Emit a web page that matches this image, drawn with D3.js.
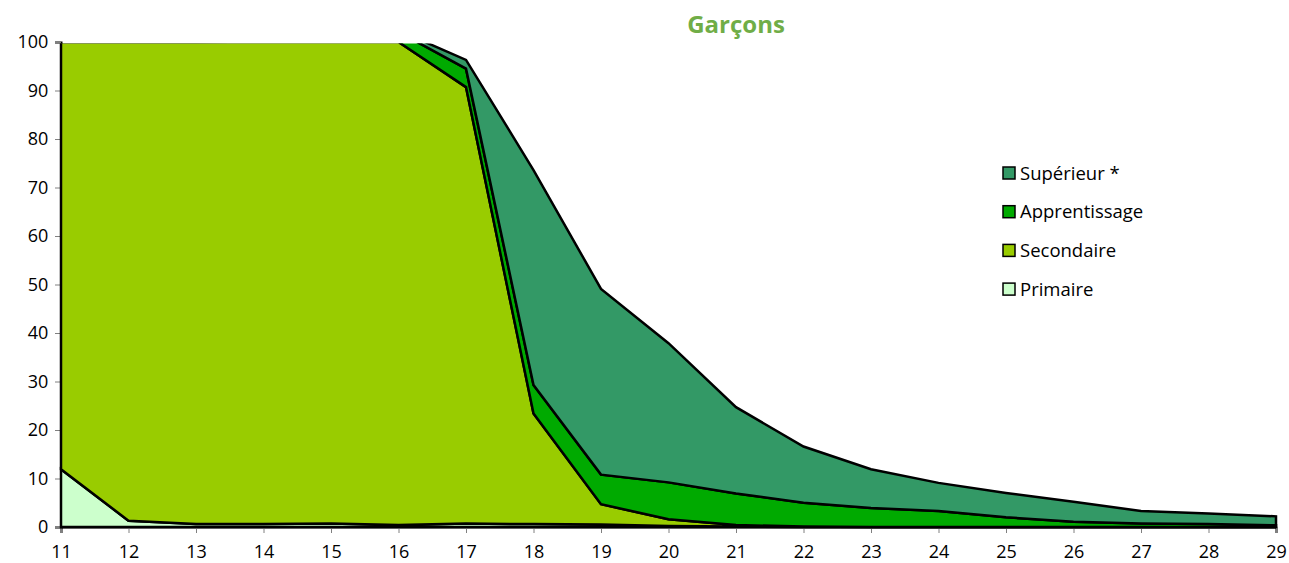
<!DOCTYPE html>
<html>
<head>
<meta charset="utf-8">
<script src="https://cdn.jsdelivr.net/npm/d3@7"></script>
<style>
  body { margin: 0; background: #fff; }
  svg { display: block; font-family: 'Open Sans', sans-serif; }
</style>
</head>
<body>
<div id="chart"></div>
<script>
const ages = [11, 12, 13, 14, 15, 16, 17, 18, 19, 20, 21, 22, 23, 24, 25, 26, 27, 28, 29]
const primaire = [11.9, 1.3, 0.6, 0.6, 0.7, 0.4, 0.7, 0.6, 0.5, 0.2, 0.1, 0, 0, 0, 0, 0, 0, 0, 0]
const secondaire = [88.1, 98.7, 99.4, 99.4, 99.3, 99.6, 90.0, 22.8, 4.2, 1.4, 0.3, 0.1, 0, 0, 0, 0, 0, 0, 0]
const apprentissage = [0, 0, 0, 0.1, 0.3, 2.1, 3.8, 5.9, 6.1, 7.6, 6.5, 4.9, 3.9, 3.3, 2.0, 1.1, 0.7, 0.6, 0.35]
const superieur = [0, 0, 0, 0, 0, 0.3, 1.8, 44.3, 38.3, 28.7, 17.8, 11.6, 8.0, 5.8, 5.0, 4.1, 2.6, 2.2, 1.85]
const seriesNames = ['Primaire', 'Secondaire', 'Apprentissage', 'Supérieur *']
const seriesColors = ['#ccffcc', '#99cc00', '#00aa00', '#339966']
const yTicks = [0, 10, 20, 30, 40, 50, 60, 70, 80, 90, 100]

const margin = { top: 42, left: 61, right: 13, bottom: 36 }
const width = 1289 - margin.left - margin.right
const height = 563 - margin.top - margin.bottom

const svg = d3
  .select('#chart')
  .append('svg')
  .attr('width', width + margin.left + margin.right)
  .attr('height', height + margin.top + margin.bottom)

const g = svg
  .append('g')
  .attr('transform', 'translate(' + margin.left + ',' + margin.top + ')')

const xPositionScale = d3.scaleLinear().domain([11, 29]).range([0, width])
const yPositionScale = d3.scaleLinear().domain([0, 100]).range([height, 0])

const table = ages.map((age, i) => ({
  age: age,
  Primaire: primaire[i],
  Secondaire: secondaire[i],
  Apprentissage: apprentissage[i],
  'Supérieur *': superieur[i]
}))

const stacked = d3.stack().keys(seriesNames)(table)

const area = d3
  .area()
  .x(d => xPositionScale(d.data.age))
  .y0(d => yPositionScale(d[0]))
  .y1(d => yPositionScale(d[1]))

// only cut off what goes above 100 (and the border drawn along it)
g.append('clipPath')
  .attr('id', 'clip')
  .append('rect')
  .attr('x', -10)
  .attr('y', 1.5)
  .attr('width', width + 20)
  .attr('height', height + 10)

const xAxis = d3
  .axisBottom(xPositionScale)
  .tickValues(ages)
  .tickFormat(d3.format('d'))
  .tickSizeOuter(0)
  .tickSize(6)
g.append('g')
  .attr('class', 'axis x-axis')
  .attr('transform', 'translate(0,' + height + ')')
  .call(xAxis)

const yAxis = d3
  .axisLeft(yPositionScale)
  .tickValues(yTicks)
  .tickSizeOuter(0)
  .tickSize(6)
g.append('g')
  .attr('class', 'axis y-axis')
  .call(yAxis)

g.selectAll('.axis text')
  .attr('font-size', 18)
  .attr('fill', '#000')
  .attr('font-family', "'Open Sans', sans-serif")
g.selectAll('.x-axis text').attr('dy', '1.2em')
g.selectAll('.y-axis text').attr('dx', '-0.2em')
g.selectAll('.axis line').attr('stroke', '#808080')
g.selectAll('.axis path').attr('stroke', '#000').attr('stroke-width', 2)

g.append('g')
  .attr('clip-path', 'url(#clip)')
  .selectAll('path')
  .data(stacked)
  .enter()
  .append('path')
  .attr('d', area)
  .attr('fill', (d, i) => seriesColors[i])
  .attr('stroke', '#000')
  .attr('stroke-width', 2.5)
  .attr('stroke-linejoin', 'miter')

// title
svg
  .append('text')
  .text('Garçons')
  .attr('x', 736)
  .attr('y', 33)
  .attr('text-anchor', 'middle')
  .attr('font-size', 24)
  .attr('font-weight', 'bold')
  .attr('fill', '#70ad47')

// legend, top series first
const legendItems = seriesNames.map((name, i) => ({ name: name, color: seriesColors[i] })).reverse()

const legend = svg
  .append('g')
  .attr('transform', 'translate(1003,167)')

const rows = legend
  .selectAll('g')
  .data(legendItems)
  .enter()
  .append('g')
  .attr('transform', (d, i) => 'translate(0,' + i * 38.7 + ')')

rows
  .append('rect')
  .attr('width', 12)
  .attr('height', 12)
  .attr('fill', d => d.color)
  .attr('stroke', '#000')
  .attr('stroke-width', 1.5)

rows
  .append('text')
  .text(d => d.name)
  .attr('x', 17)
  .attr('y', 12.5)
  .attr('font-size', 18.5)
  .attr('fill', '#000')
</script>
</body>
</html>
